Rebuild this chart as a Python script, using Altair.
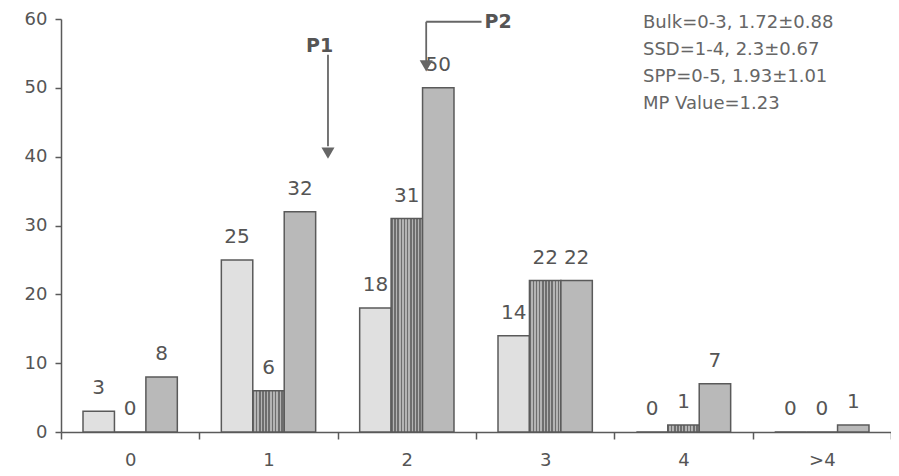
import altair as alt
import pandas as pd

# ---- data ----
categories = ["0", "1", "2", "3", "4", ">4"]
series = ["Bulk", "SSD", "SPP"]
bulk_values = [3, 25, 18, 14, 0, 0]
ssd_values = [0, 6, 31, 22, 1, 0]
spp_values = [8, 32, 50, 22, 7, 1]
stats_lines = ["Bulk=0-3, 1.72±0.88", "SSD=1-4, 2.3±0.67", "SPP=0-5, 1.93±1.01", "MP Value=1.23"]
marker_labels = ["P1", "P2"]

rows = []
for name, vals in zip(series, [bulk_values, ssd_values, spp_values]):
    for c, v in zip(categories, vals):
        rows.append({"category": c, "series": name, "value": v})
df = pd.DataFrame(rows)

FONT = "DejaVu Sans"
TXT = "#555555"
LINE = "#5a5a5a"

# vertical-stripe texture for SSD
n = 10
stops = []
for i in range(n):
    stops += [
        alt.GradientStop(offset=i / n, color="#6e6e6e"),
        alt.GradientStop(offset=(i + 0.5) / n, color="#6e6e6e"),
        alt.GradientStop(offset=(i + 0.5) / n, color="#b4b4b4"),
        alt.GradientStop(offset=(i + 1) / n, color="#b4b4b4"),
    ]
ssd_fill = alt.LinearGradient(gradient="linear", stops=stops, x1=0, x2=1, y1=0, y2=0)

x_enc = alt.X(
    "category:N",
    sort=categories,
    scale=alt.Scale(domain=categories, paddingInner=0, paddingOuter=0),
    axis=alt.Axis(
        title=None, labelAngle=0, tickBand="extent", tickSize=7, tickWidth=1.5,
        domainWidth=1.5, domainColor=LINE, tickColor=LINE, labelColor=TXT,
        labelFont=FONT, labelFontSize=18, labelPadding=12,
    ),
)
xo_enc = alt.XOffset("series:N", scale=alt.Scale(domain=series, paddingInner=0, paddingOuter=0.7))
y_axis = alt.Axis(
    title=None, values=[0, 10, 20, 30, 40, 50, 60], tickSize=6, tickWidth=1.5,
    domainWidth=1.5, domainColor=LINE, tickColor=LINE, labelColor=TXT,
    labelFont=FONT, labelFontSize=18, labelPadding=8, grid=False,
)
yq = alt.Scale(domain=[0, 60], nice=False)
y_enc = alt.Y("value:Q", scale=yq, axis=y_axis)

base = alt.Chart(df).encode(x=x_enc, xOffset=xo_enc, y=y_enc)

bars_bulk = base.transform_filter(alt.datum.series == "Bulk").mark_bar(
    fill="#e0e0e0", stroke=LINE, strokeWidth=1.5)
bars_ssd = base.transform_filter(alt.datum.series == "SSD").mark_bar(
    fill=ssd_fill, stroke=LINE, strokeWidth=1.5)
bars_spp = base.transform_filter(alt.datum.series == "SPP").mark_bar(
    fill="#b9b9b9", stroke=LINE, strokeWidth=1.5)

labels = base.mark_text(
    baseline="bottom", dy=-13, font=FONT, fontSize=20, color=TXT
).encode(text="value:Q")

bar_layer = alt.layer(bars_bulk, bars_ssd, bars_spp, labels)

# ---- annotations (P1 / P2 arrows), placed in category-index units ----
qx = alt.Scale(domain=[-0.5, 5.5], nice=False, zero=False)

seg_df = pd.DataFrame([
    {"x": 1.43, "x2": 1.43, "value": 54.8, "y2": 41.5},
    {"x": 2.14, "x2": 2.14, "value": 59.6, "y2": 53.8},
    {"x": 2.14, "x2": 2.54, "value": 59.6, "y2": 59.6},
])
segs = alt.Chart(seg_df).mark_rule(color="#666666", strokeWidth=1.8).encode(
    x=alt.X("x:Q", scale=qx, axis=None), x2="x2",
    y=alt.Y("value:Q", scale=yq, axis=y_axis), y2="y2",
)

head_df = pd.DataFrame([{"x": 1.43, "value": 40.5}, {"x": 2.14, "value": 53.2}])
heads = alt.Chart(head_df).mark_point(
    shape="triangle-down", filled=True, size=170, color="#666666", opacity=1
).encode(x=alt.X("x:Q", scale=qx, axis=None), y=alt.Y("value:Q", scale=yq, axis=y_axis))

ptxt_df = pd.DataFrame({"label": marker_labels, "x": [1.37, 2.66], "value": [56.1, 59.5]})
ptxt = alt.Chart(ptxt_df).mark_text(
    font=FONT, fontSize=19, fontWeight="bold", color="#555555", baseline="middle"
).encode(
    x=alt.X("x:Q", scale=qx, axis=None), y=alt.Y("value:Q", scale=yq, axis=y_axis), text="label:N"
)

stats = alt.Chart(pd.DataFrame([{"k": 0}])).mark_text(
    font=FONT, fontSize=18, color="#666666", align="left", baseline="alphabetic", lineHeight=27
).encode(x=alt.value(582), y=alt.value(9), text=alt.value(stats_lines))

annot_layer = alt.layer(segs, heads, ptxt)

chart = alt.layer(
    bar_layer, annot_layer, stats
).resolve_scale(x="independent").properties(
    width=830, height=413,
    autosize=alt.AutoSizeParams(type="none"),
    padding={"left": 53, "top": 11, "right": 0, "bottom": 36},
    background="white",
).configure_view(stroke=None)

chart.save("out.html", embed_options={"renderer": "svg", "actions": False})
